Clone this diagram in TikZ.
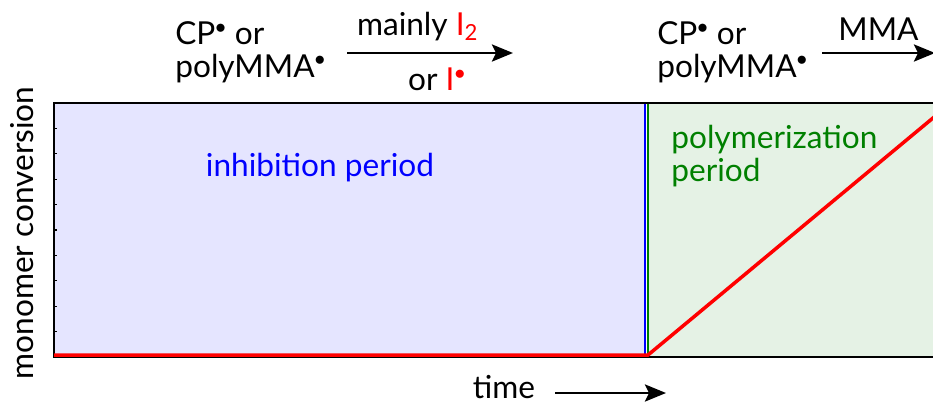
\documentclass[tikz,border=0pt]{standalone}
\usepackage{fontspec}
\setmainfont{Lato}
\usetikzlibrary{arrows.meta,positioning}
\begin{document}
\begin{tikzpicture}[
  x=0.02cm, y=-0.02cm,
  font=\fontsize{18}{18.5}\selectfont,
  lbl/.style={inner sep=0pt, align=left},
  arr/.style={-{Stealth[length=4.2mm, width=3.4mm, inset=0.8mm]}, line width=1.6pt},
  axisline/.style={line width=1.5pt},
  curve/.style={red, line width=2pt}]
  \useasboundingbox (0,0) rectangle (933,403);
  \clip (0,0) rectangle (933,403);
  \filldraw[fill=blue!10, draw=blue, line width=1.4pt] (54,103) rectangle (645,357);
  \filldraw[fill=green!50!black!10, draw=green!50!black, line width=1.4pt] (648,103) rectangle (960,357);
  \draw[axisline] (960,357) -- (54,357) -- (54,103) -- (960,103);
  \foreach \k in {1,...,9}
    \draw[line width=0.6pt] (54,103+25.4*\k) -- ++(3,0);
  \draw[curve] (54,355) -- (648,355) -- (951,103);
  \node[blue] (inh) at (320,168) {inhibition period};
  \node[lbl, green!50!black, anchor=west] (poly) at (671,156) {polymerization\\period};
  \node[rotate=90] (ylab) at (22,233) {monomer conversion};
  \node[lbl, anchor=west] (reac1) at (175,52) {CP$^{\bullet}$ or\\polyMMA$^{\bullet}$};
  \node[lbl, anchor=west] (reac2) at (657,52) {CP$^{\bullet}$ or\\polyMMA$^{\bullet}$};
  \coordinate (a1s) at (347,53);
  \coordinate (a1e) at (513,53);
  \coordinate (a2s) at (822,53);
  \coordinate (a2e) at (935,53);
  \draw[arr] (a1s) -- node[above=1mm, xshift=-7pt] (cond1) {mainly \textcolor{red}{I\textsubscript{2}}}
    node[below=1.5mm, xshift=4pt] (cond2) {or \textcolor{red}{I$^{\bullet}$}} (a1e);
  \draw[arr] (a2s) -- node[above=1mm] (mono) {MMA} (a2e);
  \node[anchor=base] (time) at (504,398) {time};
  \coordinate (tend) at (666,393);
  \draw[arr] ([xshift=8pt]time.east |- tend) -- (tend);
\end{tikzpicture}
\end{document}
